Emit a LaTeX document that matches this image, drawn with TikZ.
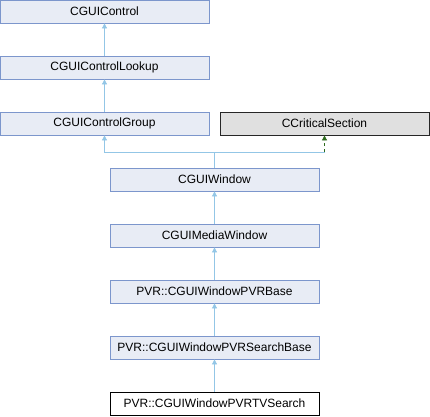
\documentclass[tikz,border=0pt]{standalone}
\usepackage{fontspec}
\setmainfont{Liberation Sans}
\usetikzlibrary{arrows.meta}

\definecolor{clsfill}{HTML}{E8ECF5}
\definecolor{clsdraw}{HTML}{7C96CC}
\definecolor{inhline}{HTML}{93C6E6}
\definecolor{protline}{HTML}{2E6B1E}
\definecolor{extfill}{HTML}{E0E0E0}

\tikzset{
  cls/.style={draw=clsdraw, fill=clsfill, minimum width=209pt, minimum height=23pt,
    inner sep=0pt, font=\fontsize{12}{14}\selectfont, line width=0.8pt},
  extcls/.style={cls, draw=black!85, fill=extfill},
  curcls/.style={cls, draw=black, fill=white},
  inh/.style={draw=inhline, line width=0.8pt, -{Triangle[width=5pt,length=5pt]}},
  prot/.style={draw=protline, line width=0.8pt, dashed, -{Triangle[width=5pt,length=5pt]}}
}

\begin{document}
\begin{tikzpicture}[x=1pt, y=-1pt]
			\useasboundingbox (0,0) rectangle (430,416);
			\node[cls] (ctl) at (104.5, 11.5) {CGUIControl};
			\node[cls] (look) at (104.5, 67.5) {CGUIControlLookup};
			\node[cls] (grp) at (104.5, 123.5) {CGUIControlGroup};
			\node[extcls] (crit) at (324.5, 123.5) {CCriticalSection};
			\node[cls] (win) at (214.5, 179.5) {CGUIWindow};
			\node[cls] (media) at (214.5, 235.5) {CGUIMediaWindow};
			\node[cls] (pvrbase) at (214.5, 291.5) {PVR::CGUIWindowPVRBase};
			\node[cls] (srchbase) at (214.5, 347.5) {PVR::CGUIWindowPVRSearchBase};
			\node[curcls] (tvsrch) at (214.5, 403.5) {PVR::CGUIWindowPVRTVSearch};
			% inheritance edges
			\draw[inh] (look.north) -- (ctl.south);
			\draw[inh] (grp.north) -- (look.south);
			\coordinate (join) at (214.5, 152);
			\draw[inhline, line width=0.8pt] (win.north) -- (join);
			\draw[inh] (join) -| (grp.south);
			\draw[inhline, line width=0.8pt] (join) -- (join -| crit.south);
			\draw[prot] (join -| crit.south) -- (crit.south);
			\draw[inh] (media.north) -- (win.south);
			\draw[inh] (pvrbase.north) -- (media.south);
			\draw[inh] (srchbase.north) -- (pvrbase.south);
			\draw[inh] (tvsrch.north) -- (srchbase.south);
		\end{tikzpicture}
\end{document}
